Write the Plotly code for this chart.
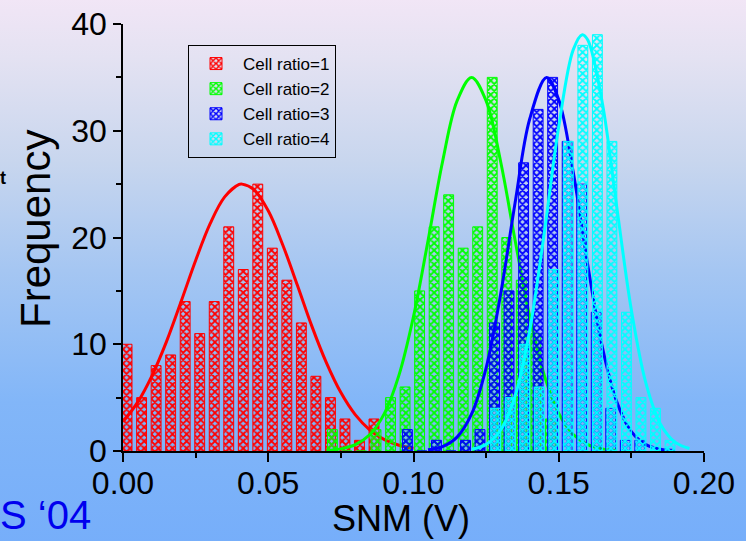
import base64
import plotly.graph_objects as go

# ---------------- data ----------------
red_x = [0.0014 + 0.005 * k for k in range(18)]
red_y = [10, 5, 8, 9, 14, 11, 14, 21, 17, 25, 19, 16, 12, 7, 5, 3, 1, 3]

green_x = [0.0721, 0.0771, 0.0821, 0.0871, 0.0921, 0.0971, 0.1021, 0.1071, 0.1121,
           0.1171, 0.1221, 0.1271, 0.1321, 0.1371, 0.1421, 0.1471]
green_y = [2, 0, 0, 2, 5, 6, 15, 21, 24, 19, 21, 35, 20, 16, 11, 3]

blue_x = [0.0979, 0.1029, 0.1079, 0.1129, 0.1179, 0.1229, 0.1279, 0.1329, 0.1379,
          0.1429, 0.1479, 0.1529, 0.1579, 0.1629, 0.1679, 0.1729, 0.1779]
blue_y = [2, 0, 1, 0, 1, 2, 12, 15, 27, 32, 35, 29, 25, 13, 4, 1, 1]

cyan_x = [0.1283, 0.1333, 0.1383, 0.1433, 0.1483, 0.1533, 0.1583, 0.1633, 0.1683,
          0.1733, 0.1783, 0.1833, 0.1883]
cyan_y = [4, 5, 10, 6, 17, 29, 38, 39, 29, 13, 5, 4, 1]

# fitted curves
red_fx = [0.000, 0.005, 0.010, 0.015, 0.020, 0.025, 0.030, 0.035, 0.040, 0.041, 0.045,
          0.050, 0.055, 0.060, 0.065, 0.070, 0.075, 0.080, 0.085, 0.090, 0.095, 0.100]
red_fy = [2.74, 4.55, 7.07, 10.27, 14.0, 17.85, 21.3, 23.8, 24.97, 25.0, 24.5,
          22.5, 19.3, 15.55, 11.7, 8.28, 5.47, 3.38, 1.96, 1.06, 0.54, 0.26]

green_fx = [0.070, 0.075, 0.080, 0.085, 0.090, 0.095, 0.100, 0.105, 0.110, 0.115, 0.120,
            0.125, 0.130, 0.135, 0.140, 0.145, 0.150, 0.155, 0.160, 0.165, 0.170]
green_fy = [0.06, 0.20, 0.59, 1.54, 3.52, 7.11, 12.6, 19.7, 27.1, 32.8, 35.0,
            32.8, 27.1, 19.7, 12.6, 7.11, 3.52, 1.54, 0.59, 0.20, 0.06]

blue_fx = [0.105, 0.110, 0.115, 0.120, 0.125, 0.130, 0.135, 0.140, 0.1458, 0.150,
           0.155, 0.160, 0.165, 0.170, 0.175, 0.180, 0.185, 0.190]
blue_fy = [0.11, 0.41, 1.30, 3.47, 7.79, 14.7, 23.3, 31.1, 35.0, 32.9,
           26.1, 17.4, 9.73, 4.58, 1.81, 0.60, 0.17, 0.04]

cyan_fx = [0.120, 0.125, 0.130, 0.135, 0.140, 0.145, 0.150, 0.155, 0.1581, 0.160,
           0.165, 0.170, 0.175, 0.180, 0.185, 0.190, 0.195]
cyan_fy = [0.16, 0.62, 1.97, 5.19, 11.3, 20.4, 30.4, 37.6, 39.0, 38.5,
           32.6, 22.8, 13.2, 6.36, 2.53, 0.83, 0.23]

names = ["Cell ratio=1", "Cell ratio=2", "Cell ratio=3", "Cell ratio=4"]
colors = ["#ff0000", "#00ff00", "#0000ff", "#00ffff"]

x_ticks = [0.00, 0.05, 0.10, 0.15, 0.20]
x_ticklabels = ["0.00", "0.05", "0.10", "0.15", "0.20"]
y_ticks = [0, 10, 20, 30, 40]

# ---------------- figure ----------------
W, H = 746, 541
ML, MR, MT, MB = 123, 42, 24, 90
PW, PH = W - ML - MR, H - MT - MB
FONT = "Liberation Sans, Arial, sans-serif"

def px(xp):
    return (xp - ML) / PW

def py(yp):
    return (H - MB - yp) / PH

fig = go.Figure()
series = [(red_x, red_y, red_fx, red_fy), (green_x, green_y, green_fx, green_fy),
          (blue_x, blue_y, blue_fx, blue_fy), (cyan_x, cyan_y, cyan_fx, cyan_fy)]
axes_ids = ["", "2", "3", "4"]
for i, (bx, by, fx, fy) in enumerate(series):
    xa, ya = "x" + axes_ids[i], "y" + axes_ids[i]
    fig.add_trace(go.Bar(
        x=bx, y=by, width=0.0034, name=names[i], xaxis=xa, yaxis=ya,
        marker=dict(color=colors[i], line=dict(color=colors[i], width=1),
                    pattern=dict(shape="x", fillmode="replace", size=5, solidity=0.6,
                                 fgcolor=colors[i], bgcolor="rgba(0,0,0,0)")),
        showlegend=True, legendrank=i + 1,
    ))
    fig.add_trace(go.Scatter(
        x=fx, y=fy, mode="lines", line=dict(color=colors[i], width=3, shape="spline"),
        xaxis=xa, yaxis=ya, showlegend=False, hoverinfo="skip",
    ))

axis_common = dict(showgrid=False, zeroline=False, automargin=False)
fig.update_layout(
    width=W, height=H,
    margin=dict(l=ML, r=MR, t=MT, b=MB, autoexpand=False),
    paper_bgcolor="#a8c8f2", plot_bgcolor="rgba(0,0,0,0)",
    barmode="overlay",
    font=dict(family=FONT, color="black"),
    xaxis=dict(range=[0, 0.2], tickvals=x_ticks, ticktext=x_ticklabels,
               ticks="outside", ticklen=9, tickwidth=1.5, tickcolor="black",
               ticklabelstandoff=-6,
               showline=True, linecolor="black", linewidth=1.5,
               tickfont=dict(size=32, family=FONT),
               minor=dict(tickvals=[0.025, 0.075, 0.125, 0.175], ticks="outside",
                          ticklen=5, tickwidth=1.5, tickcolor="black"),
               **axis_common),
    yaxis=dict(range=[0, 40], tickvals=y_ticks,
               ticks="outside", ticklen=8, tickwidth=1.5, tickcolor="black",
               showline=True, linecolor="black", linewidth=1.5,
               tickfont=dict(size=32, family=FONT),
               minor=dict(tickvals=[5, 15, 25, 35], ticks="outside",
                          ticklen=5, tickwidth=1.5, tickcolor="black"),
               **axis_common),
    legend=dict(x=px(188), y=py(45), xanchor="left", yanchor="top",
                bgcolor="rgba(0,0,0,0)", bordercolor="black", borderwidth=1,
                font=dict(size=17, family=FONT), tracegroupgap=0, traceorder="normal",
                itemwidth=44),
)
for s in ["2", "3", "4"]:
    fig.update_layout(**{
        "xaxis" + s: dict(range=[0, 0.2], overlaying="x", visible=False, **axis_common),
        "yaxis" + s: dict(range=[0, 40], overlaying="y", visible=False, **axis_common),
    })

# gradient background
svg = ('<svg xmlns="http://www.w3.org/2000/svg" width="746" height="541" '
       'preserveAspectRatio="none"><defs><linearGradient id="g" x1="0" y1="0" x2="0" y2="1">'
       '<stop offset="0" stop-color="#f2e6f6"/>'
       '<stop offset="0.11" stop-color="#e4e2f2"/>'
       '<stop offset="0.30" stop-color="#c8d6ee"/>'
       '<stop offset="0.50" stop-color="#a5c6f2"/>'
       '<stop offset="0.74" stop-color="#82b6f8"/>'
       '<stop offset="1" stop-color="#76aefa"/>'
       '</linearGradient></defs><rect width="746" height="541" fill="url(#g)"/></svg>')
src = "data:image/svg+xml;base64," + base64.b64encode(svg.encode()).decode()
fig.add_layout_image(dict(source=src, xref="paper", yref="paper",
                          x=px(-3), y=py(-3), sizex=(W + 6) / PW, sizey=(H + 6) / PH,
                          xanchor="left", yanchor="top", sizing="stretch", layer="below"))

fig.add_annotation(text="Frequency", x=px(35), y=py(229), xref="paper", yref="paper",
                   textangle=-90, showarrow=False, font=dict(size=42, family=FONT, color="black"),
                   xanchor="center", yanchor="middle")
fig.add_annotation(text="SNM (V)", x=px(401), y=py(518), xref="paper", yref="paper",
                   showarrow=False, font=dict(size=36, family=FONT, color="black"),
                   xanchor="center", yanchor="middle")
fig.add_annotation(text="S \u201804", x=px(-2), y=py(515), xref="paper", yref="paper",
                   showarrow=False, font=dict(size=40, family=FONT, color="#0000ee"),
                   xanchor="left", yanchor="middle")
fig.add_annotation(text="<b>t</b>", x=px(-2), y=py(178), xref="paper", yref="paper",
                   showarrow=False, font=dict(size=18, family=FONT, color="black"),
                   xanchor="left", yanchor="middle")

fig.write_html("out.html")
